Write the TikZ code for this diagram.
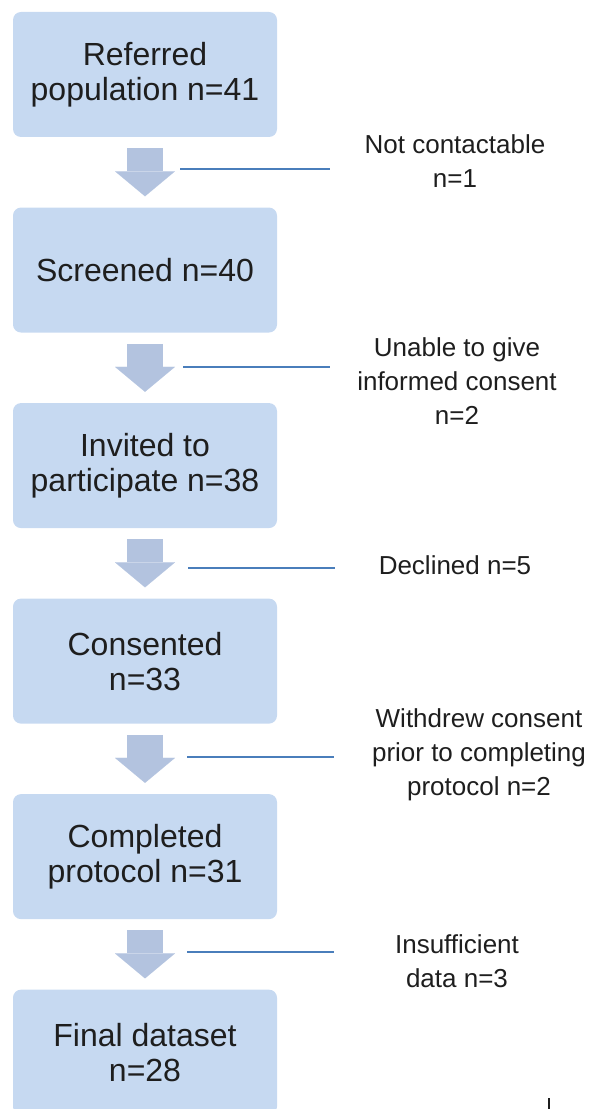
\documentclass[tikz,border=0pt]{standalone}
\usepackage{fontspec}
\setmainfont{Liberation Sans}
\usetikzlibrary{arrows.meta,positioning}
\definecolor{boxfill}{HTML}{C6D9F1}
\definecolor{flowfill}{HTML}{B3C3DF}
\definecolor{linkblue}{HTML}{4A7EBB}
\definecolor{textgrey}{HTML}{1E1E1E}
\tikzset{
  stage/.style={fill=boxfill,rounded corners=6pt,minimum width=198pt,minimum height=93.75pt,align=center,text=textgrey,font=\fontsize{24}{26.25}\selectfont},
  excl/.style={align=center,text=textgrey,font=\fontsize{19.5}{25.5}\selectfont},
  flow/.style={draw=flowfill,line width=27pt,shorten <=8.25pt,shorten >=8.25pt,-{Triangle[width=45pt,length=18.75pt,line width=0.01pt,fill=flowfill]}},
  exclude/.style={draw=linkblue,line width=1.2pt}
}

\begin{document}
\begin{tikzpicture}[x=0.75pt,y=-0.75pt,node distance=52.5pt]
\useasboundingbox (0,0) rectangle (592,1109);

\node[stage] (ref) at (145,74.5) {Referred\\population n=41};
\node[stage,below=of ref] (scr) {Screened n=40};
\node[stage,below=of scr] (inv) {Invited to\\participate n=38};
\node[stage,below=of inv] (cons) {Consented\\n=33};
\node[stage,below=of cons] (comp) {Completed\\protocol n=31};
\node[stage,below=of comp] (final) {Final dataset\\n=28};

\draw[flow] (ref) -- (scr);
\draw[flow] (scr) -- (inv);
\draw[flow] (inv) -- (cons);
\draw[flow] (cons) -- (comp);
\draw[flow] (comp) -- (final);

\node[excl] (nocont) at (455,161) {Not contactable\\n=1};
\node[excl] (unable) at (457,381) {Unable to give\\informed consent\\n=2};
\node[excl] (decl) at (455,565) {Declined n=5};
\node[excl] (withd) at (479,755) {Withdrew consent\\prior to completing\\protocol n=2};
\node[excl] (insuf) at (457,961) {Insufficient\\data n=3};

\coordinate (l1a) at (180,169);
\coordinate (l1b) at (330,169);
\coordinate (l2a) at (183,367);
\coordinate (l2b) at (330,367);
\coordinate (l3a) at (188,568);
\coordinate (l3b) at (335,568);
\coordinate (l4a) at (187,757);
\coordinate (l4b) at (334,757);
\coordinate (l5a) at (187,952);
\coordinate (l5b) at (334,952);
\draw[exclude] (l1a) -- (l1b);
\draw[exclude] (l2a) -- (l2b);
\draw[exclude] (l3a) -- (l3b);
\draw[exclude] (l4a) -- (l4b);
\draw[exclude] (l5a) -- (l5b);

\coordinate (tick1) at (549,1098);
\coordinate (tick2) at (549,1109);
\draw[textgrey,line width=1.5pt] (tick1) -- (tick2);

\end{tikzpicture}
\end{document}
